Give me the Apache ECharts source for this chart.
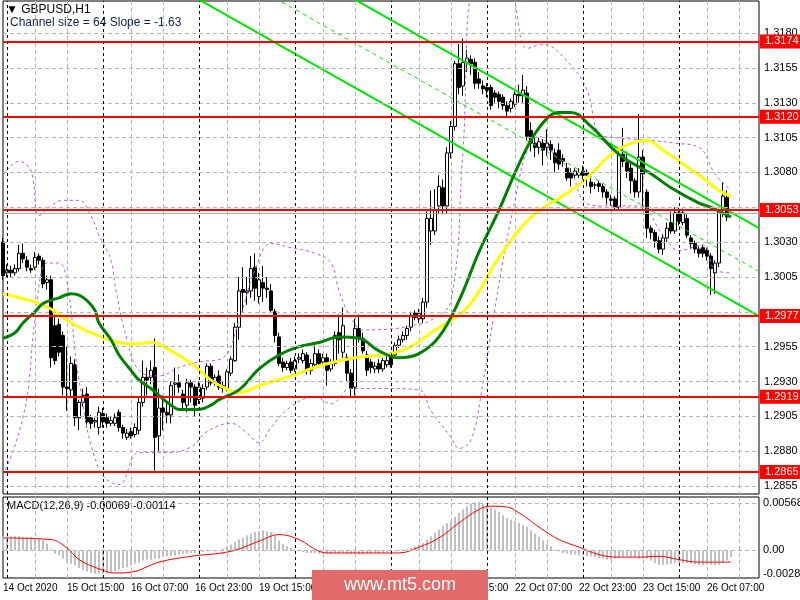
<!DOCTYPE html>
<html><head><meta charset="utf-8">
<script src="https://cdn.jsdelivr.net/npm/echarts@6/dist/echarts.min.js"></script>
<style>html,body{margin:0;padding:0;background:#fff}#c{width:800px;height:600px}</style>
</head><body><div id="c"></div>
<script>
// prices are given in pips above BASE
const BASE = 1.2800;
// [open, close, low, high] per H1 bar
const candles = [
[230,206,203,233],[208,210,205,214],[210,208,205,213],[208,211,206,214],[211,222,209,228],[222,218,215,229],[217,212,209,220],[211,210,208,214],[212,219,210,223],[220,217,214,222],
[217,200,197,219],[201,203,196,206],[203,147,140,206],[170,145,142,178],[171,151,148,175],[163,126,120,166],[126,125,109,155],[124,143,118,148],[142,104,98,146],[104,115,95,117],
[115,120,112,125],[121,101,97,126],[104,100,96,106],[101,102,97,104],[97,108,92,112],[107,101,97,111],[104,100,97,107],[100,102,98,105],[100,104,98,107],[108,97,94,110],
[97,93,89,99],[90,93,88,96],[94,91,89,97],[92,97,90,100],[95,115,92,118],[115,133,112,145],[133,131,120,140],[133,138,128,145],[140,90,66,161],[91,111,80,125],
[111,108,95,120],[108,106,100,115],[106,127,100,130],[128,129,120,140],[129,126,122,135],[121,115,110,124],[113,129,108,132],[129,126,115,131],[126,113,105,128],[117,126,114,130],
[118,125,115,128],[126,141,124,143],[141,129,127,143],[129,133,127,135],[134,126,124,138],[127,125,122,130],[125,137,123,139],[136,146,134,148],[145,169,144,172],[169,195,160,205],
[196,194,180,212],[194,195,185,205],[195,211,190,220],[212,197,188,222],[191,203,186,208],[201,197,187,213],[197,196,190,205],[195,181,180,200],[180,163,158,182],[162,143,141,165],
[144,140,137,147],[140,143,138,145],[144,138,136,147],[139,145,137,148],[146,147,143,150],[145,150,143,153],[149,138,135,151],[138,143,135,146],[142,150,140,156],[150,143,140,153],
[144,147,141,150],[147,138,127,150],[139,143,137,146],[143,163,141,166],[165,160,150,178],[151,170,147,183],[147,136,130,150],[136,125,118,139],[126,168,120,175],[168,161,158,178],
[161,152,150,165],[149,138,134,152],[144,140,136,146],[139,141,136,144],[143,139,136,146],[139,145,137,147],[142,145,140,148],[149,142,140,151],[149,156,147,158],[156,160,154,163],
[160,163,158,166],[163,168,160,170],[169,177,166,180],[179,176,174,181],[175,179,172,182],[175,187,172,190],[187,247,183,252],[238,247,228,267],[238,253,235,268],[256,270,250,278],
[269,256,250,275],[256,294,250,298],[294,313,290,317],[313,358,310,360],[358,341,336,372],[342,359,335,376],[359,362,352,368],[361,358,350,364],[359,344,340,362],[347,344,340,352],
[342,340,336,346],[341,339,334,344],[341,328,325,343],[337,334,330,339],[336,331,326,338],[334,328,325,336],[328,324,320,331],[326,331,323,333],[329,336,327,338],[336,335,330,343],
[335,339,330,350],[337,306,303,342],[310,301,295,316],[301,298,291,305],[298,302,293,305],[301,296,285,304],[298,301,292,311],[300,296,289,303],[294,287,280,297],[296,286,282,301],
[290,288,284,293],[283,276,274,287],[280,276,270,283],[278,281,276,283],[278,280,276,283],[281,278,275,285],[280,278,270,282],[273,270,265,276],[271,271,268,273],[272,270,266,274],
[270,266,262,272],[266,262,257,268],[261,260,256,264],[261,255,253,263],[255,293,253,295],[293,288,284,312],[287,281,276,295],[283,274,265,288],[274,266,262,276],[266,291,262,322],
[291,279,254,296],[266,240,233,268],[240,237,232,242],[237,231,226,239],[231,225,222,234],[225,233,221,236],[233,240,230,244],[244,238,236,252],[238,251,236,255],[251,245,242,255],
[244,251,242,254],[247,235,233,250],[233,229,225,235],[229,225,222,231],[225,222,219,227],[226,222,219,228],[224,220,217,226],[220,211,192,222],[208,215,193,217],[215,252,212,254],
[253,263,248,273],[262,248,245,267]
];
// moving averages and bands read at bar indices: [bar, pips]
const maGreen = [[0,161],[3,165],[5,172],[8,180],[10,186],[14,190],[17,193],[19,192],[21,188],[23,181],[24,172],[27,160],[29,149],[32,138],[34,131],[37,125],[39,120],[42,113],[44,110],[49,110],[52,113],[54,117],[59,124],[64,139],[69,149],[74,155],[79,158],[84,162],[89,161],[94,152],[99,147],[104,150],[109,162],[114,188],[119,223],[124,253],[129,286],[134,312],[139,323],[142,323],[147,313],[154,293],[162,279],[167,269],[174,258],[177,255],[182,248]];
const maYellow = [[0,193],[8,187],[12,182],[16,174],[22,165],[32,157],[37,158],[42,152],[47,143],[52,131],[55,126],[59,122],[64,127],[72,134],[80,142],[88,147],[97,150],[102,155],[107,165],[116,183],[124,219],[132,248],[142,267],[147,279],[152,293],[157,301],[161,303],[165,296],[170,286],[175,276],[179,267],[182,263]];
const bandUpper = [[0,278],[4,288],[7,281],[9,249],[12,256],[15,260],[19,260],[22,249],[24,235],[27,217],[28,199],[31,160],[34,138],[39,134],[44,140],[49,144],[55,147],[59,174],[63,210],[67,229],[72,226],[78,222],[82,215],[84,195],[87,176],[90,167],[98,168],[102,170],[107,174],[112,188],[115,296],[118,410],[126,410],[131,369],[135,372],[141,360],[146,339],[149,308],[153,305],[162,303],[168,301],[174,298],[178,279],[182,267]];
const bandLower = [[0,63],[3,84],[6,119],[8,174],[11,215],[14,215],[16,202],[19,131],[24,67],[29,56],[34,79],[41,79],[47,83],[51,94],[57,100],[61,93],[64,86],[67,97],[72,112],[78,119],[82,114],[87,125],[95,125],[104,124],[107,109],[112,90],[114,82],[117,88],[120,129],[122,165],[125,217],[128,260],[131,296],[134,306],[138,292],[142,281],[145,260],[149,256],[159,256],[165,235],[169,224],[175,228],[178,210],[182,208]];
// trend channel endpoints [bar, pips]
const chanTop = [[88,404],[189,240]];
const chanMid = [[68,405],[189,209]];
const chanBot = [[49,404],[189,177]];
// horizontal levels
const levels = [1.3174, 1.3120, 1.3053, 1.2977, 1.2919, 1.2865];
const gridPrices = [1.3180,1.3155,1.3130,1.3105,1.3080,1.3055,1.3030,1.3005,1.2980,1.2955,1.2930,1.2905,1.2880,1.2855];
const hiddenPriceLabels = [1.3055, 1.2980];
// MACD histogram (x 0.0001) per bar
const macdHist = [17,17,17,17,17,16,16,16,15,14,12,8,2,-4,-6,-10,-14,-16,-18,-21,-23,-25,-27,-28,-28,-28,-28,-27,-25,-23,-21,-20,-18,-16,-14,-12,-11,-11,-10,-10,-8,-7,-7,-6,-5,-4,-4,-3,-3,-2,-2,-1,-1,-1,0,2,4,7,10,13,15,18,20,22,23,24,23,22,18,12,8,5,3,1,0,-2,-3,
-3,-3,-4,-4,-4,-4,-3,-3,-3,-4,-4,-4,-5,-5,-4,-4,-3,-3,-3,-2,-2,-1,0,
1,2,3,5,7,9,13,17,21,25,29,33,36,40,45,49,53,56,58,58,56,54,51,49,46,42,39,37,35,33,30,28,24,20,16,12,8,5,1,-1,-3,-4,-5,-5,-6,-6,-7,-7,-8,-9,-10,-11,-11,-10,-9,-7,-7,-8,-9,-10,-10,-10,-12,-15,-17,-17,-17,-16,-15,-15,-15,-15,-16,-17,-17,-17,-17,-17,-18,-17,-15,-12,-8];
const macdSignal = [[0,15],[12,13],[16,3],[19,-11],[24,-22],[28,-27],[32,-26],[39,-14],[47,-7],[57,-1],[64,11],[69,19],[74,13],[79,-1],[82,-3],[99,-3],[104,4],[109,15],[114,33],[119,49],[122,53],[126,52],[129,45],[134,28],[139,13],[144,4],[149,-5],[154,-8],[159,-8],[164,-7],[169,-11],[174,-14],[182,-14]];
const tickLabels = {0:'14 Oct 2020',16:'15 Oct 15:00',32:'16 Oct 07:00',48:'16 Oct 23:00',64:'19 Oct 15:00',80:'20 Oct 07:00',96:'20 Oct 23:00',112:'21 Oct 15:00',128:'22 Oct 07:00',144:'22 Oct 23:00',160:'23 Oct 15:00',176:'26 Oct 07:00'};
const daySeparators = [1,25,49,73,97,121,145,169];
const macdLabels = [0.00568, 0.00, -0.00286];

const N = 190;
const cats = Array.from({length:N},(_,i)=>String(i));
const px = p => +(BASE + p/10000).toFixed(5);
const ptLine = arr => arr.map(d=>[d[0], px(d[1])]);
const FN = 'Liberation Sans';
const FS = 11;

const sepItems = daySeparators.map(i=>({xAxis:i, lineStyle:{color:'#000',type:[3,3],width:1}, label:{show:false}}));
const mainMark = {
  silent:true, symbol:'none', animation:false, precision:5,
  data: gridPrices.map(v=>({yAxis:v, lineStyle:{color:'#b4b4b4',type:[4,3],width:1},
    label:{show: !hiddenPriceLabels.includes(v), position:'end', distance:5, formatter: v.toFixed(4), color:'#000', fontFamily:FN, fontSize:FS}}))
  .concat([{yAxis:1.3051, lineStyle:{color:'#aaaaaa',type:'solid',width:1}, label:{show:false}}])
  .concat(levels.map(v=>({yAxis:v, lineStyle:{color:'#ff0000',type:'solid',width:2},
    label:{show:true, position:'end', distance:1, formatter:v.toFixed(4), color:'#fff', backgroundColor:'#ff0000', padding:[2,4,1,5], fontFamily:FN, fontSize:FS}})))
  .concat(sepItems)
};

const chart = echarts.init(document.getElementById('c'));
chart.setOption({
  animation:false,
  backgroundColor:'#fff',
  grid:[{left:3,right:41,top:1,height:493,show:true,borderColor:'#000',borderWidth:1},
        {left:3,right:41,top:497,height:81,show:true,borderColor:'#000',borderWidth:1}],
  xAxis:[
    {type:'category',data:cats,gridIndex:0,boundaryGap:false,axisLine:{show:false},axisTick:{show:false},axisLabel:{show:false},
     splitLine:{show:true,interval:(i)=>i%8===0&&i%24!==0,lineStyle:{color:'#b4b4b4',type:[4,3]}}},
    {type:'category',data:cats,gridIndex:1,boundaryGap:false,axisLine:{show:false},
     axisTick:{show:false},
     axisLabel:{show:true,interval:0,align:'left',margin:5,color:'#000',fontFamily:FN,fontSize:10,formatter:(v,i)=>tickLabels[i]||''},
     splitLine:{show:true,interval:(i)=>i%8===0&&i%24!==0,lineStyle:{color:'#b4b4b4',type:[4,3]}}}
  ],
  yAxis:[
    {type:'value',gridIndex:0,min:1.28493,max:1.32030,position:'right',axisLabel:{show:false},splitLine:{show:false},axisLine:{show:false},axisTick:{show:false}},
    {type:'value',gridIndex:1,min:-0.0033,max:0.0064,position:'right',axisLabel:{show:false},splitLine:{show:false},axisLine:{show:false},axisTick:{show:false}}
  ],
  series:[
    {type:'line',data:ptLine(bandUpper),symbol:'none',smooth:0.4,clip:true,lineStyle:{color:'#b060e0',width:1,type:[3,3]}},
    {type:'line',data:ptLine(bandLower),symbol:'none',smooth:0.4,clip:true,lineStyle:{color:'#b060e0',width:1,type:[3,3]}},
    {type:'line',data:ptLine(chanTop),symbol:'none',clip:true,lineStyle:{color:'#00e600',width:2}},
    {type:'line',data:ptLine(chanMid),symbol:'none',clip:true,lineStyle:{color:'#00e600',width:1,type:[4,4]}},
    {type:'line',data:ptLine(chanBot),symbol:'none',clip:true,lineStyle:{color:'#00e600',width:2}},
    {type:'line',data:ptLine(maYellow),symbol:'none',smooth:0.4,lineStyle:{color:'#ffff00',width:3}},
    {type:'line',data:ptLine(maGreen),symbol:'none',smooth:0.4,lineStyle:{color:'#008000',width:3}},
    {type:'candlestick',xAxisIndex:0,yAxisIndex:0,barWidth:3,
     data:candles.map(c=>c.map(px)),
     itemStyle:{color:'#ffffff',color0:'#000000',borderColor:'#000000',borderColor0:'#000000',borderWidth:1},
     markLine:mainMark},
    {type:'bar',xAxisIndex:1,yAxisIndex:1,barWidth:2,data:macdHist.map(v=>v/10000),itemStyle:{color:'#c0c0c0'},
     markLine:{silent:true,symbol:'none',precision:5,data:macdLabels.map(v=>({yAxis:v,lineStyle:{color: v===-0.00286?'rgba(0,0,0,0)':'#b4b4b4',type:[4,3],width:1},
       label:{show:true,position:'end',distance:4,formatter:v===0?'0.00':String(v),color:'#000',fontFamily:FN,fontSize:FS}}))
       .concat(daySeparators.map(i=>({xAxis:i,lineStyle:{color:'#000',type:[3,3],width:1},label:{show:false}})))}},
    {type:'line',xAxisIndex:1,yAxisIndex:1,data:macdSignal.map(d=>[d[0],d[1]/10000]),symbol:'none',smooth:0.4,lineStyle:{color:'#ff0000',width:1}}
  ],
  graphic:[
    {type:'text',left:6,top:4,style:{text:'▼ GBPUSD,H1',fill:'#000',font:'12px "Liberation Sans"'}},
    {type:'text',left:10,top:17,style:{text:'Channel size = 64 Slope = -1.63',fill:'#102050',font:'12px "Liberation Sans"'}},
    {type:'text',left:7,top:500,style:{text:'MACD(12,26,9) -0.00069 -0.00114',fill:'#000',font:'11px "Liberation Sans"'}},
    {type:'rect',z:100,zlevel:1,shape:{x:312,y:570,width:176,height:30},style:{fill:'#e26a6a'}},
    {type:'text',z:101,zlevel:1,x:400,y:585,style:{text:'www.mt5.com',fill:'#fff',font:'18px "Liberation Sans"',align:'center',verticalAlign:'middle'}}
  ]
});
</script></body></html>
